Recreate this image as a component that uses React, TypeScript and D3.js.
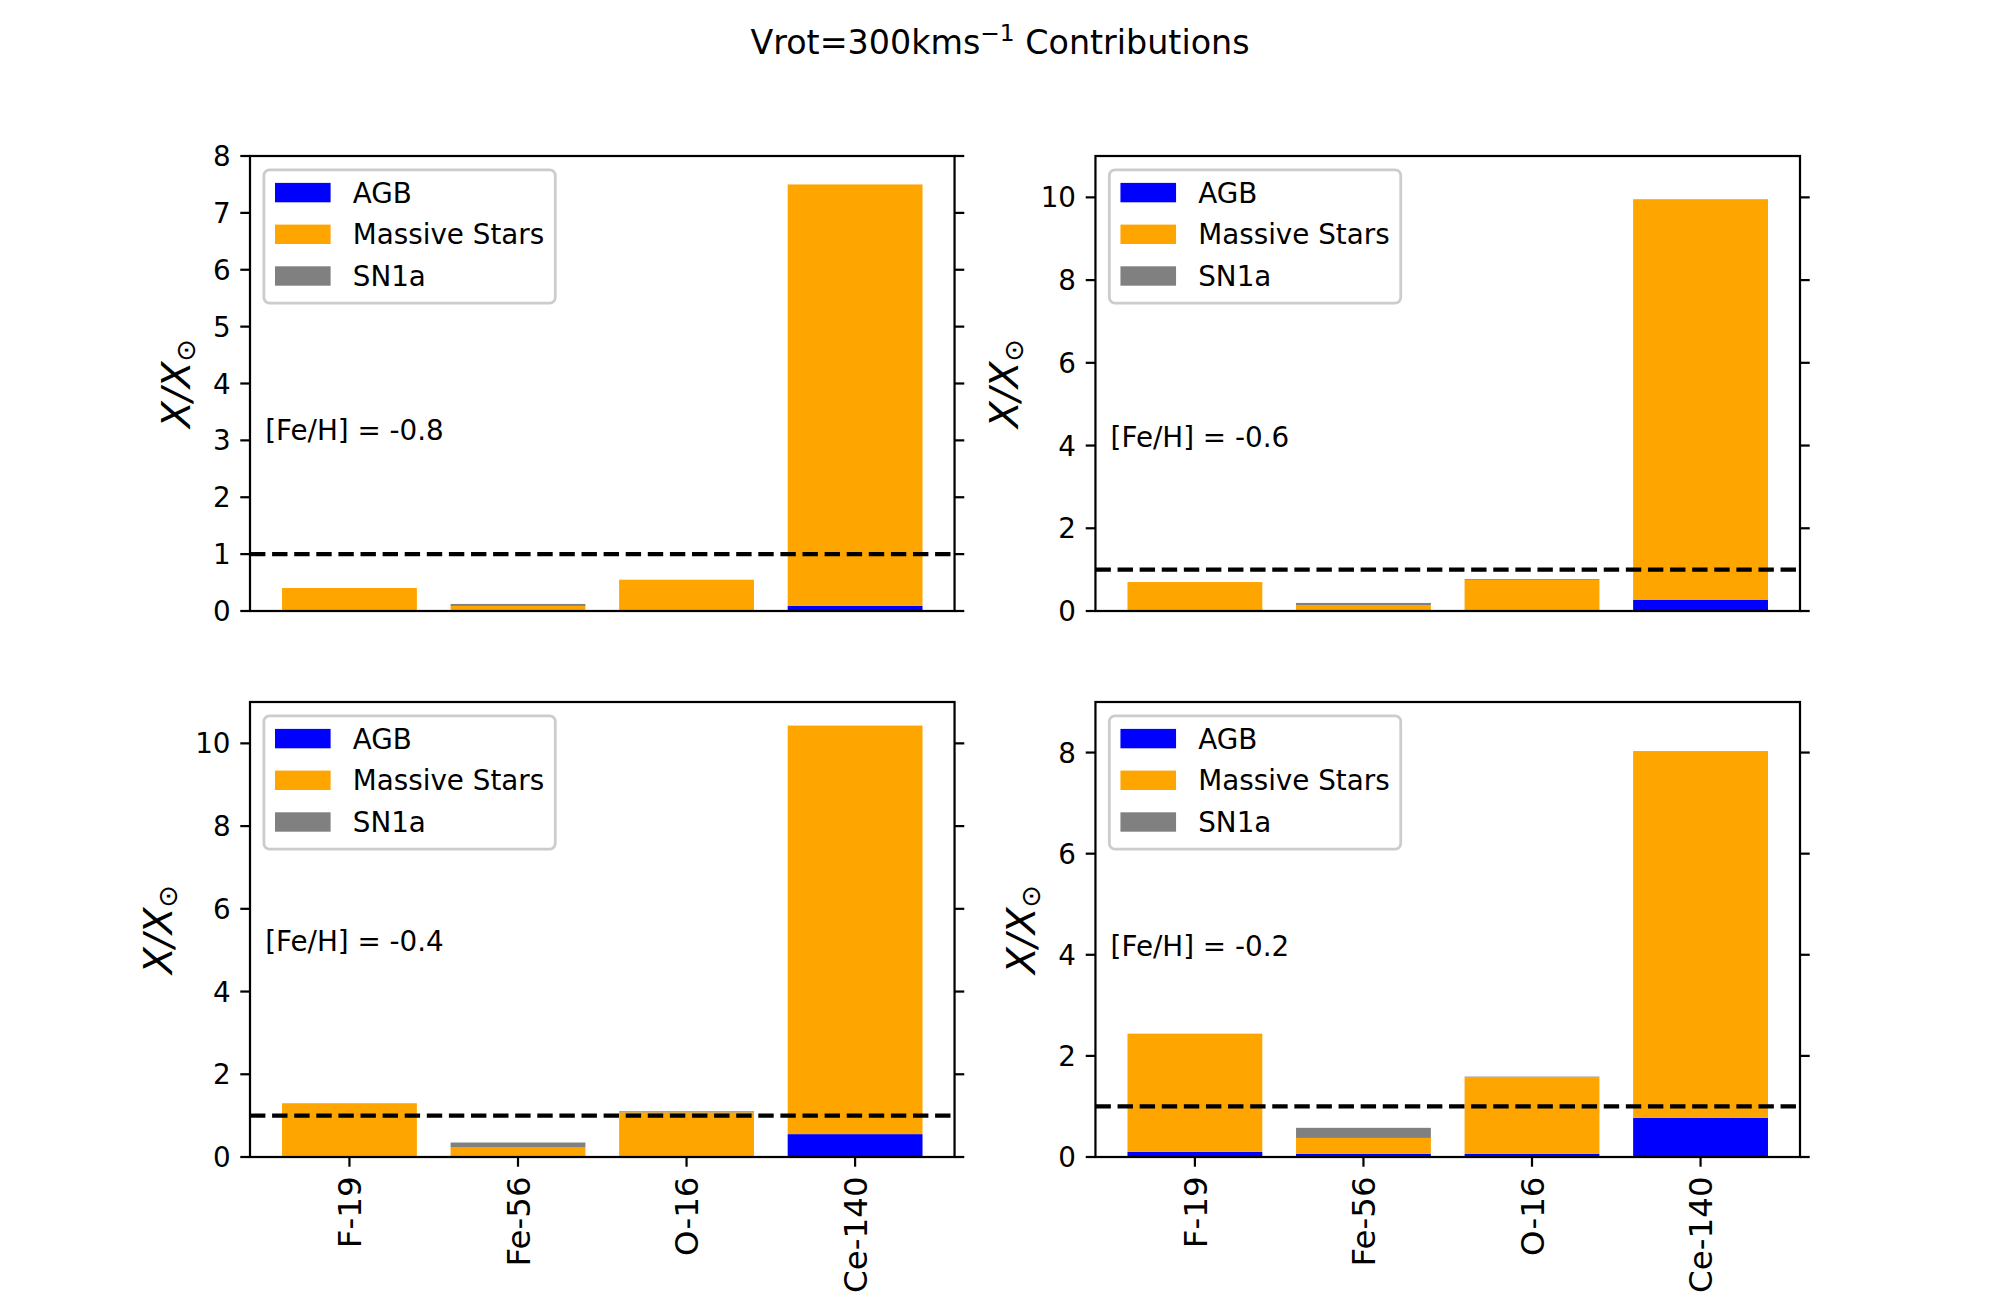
import React, { useEffect, useRef } from "react";
import * as d3 from "d3";

// ---------------- data ----------------
const categories = ["F-19", "Fe-56", "O-16", "Ce-140"];
const metallicities = ["-0.8", "-0.6", "-0.4", "-0.2"];
const seriesNames = ["AGB", "Massive Stars", "SN1a"];
const seriesColors = ["blue", "orange", "grey"];

const agbFeHm08 = [0.004, 0.003, 0.003, 0.09];
const massiveFeHm08 = [0.4, 0.086, 0.543, 7.41];
const sn1aFeHm08 = [0.0, 0.035, 0.003, 0.0];

const agbFeHm06 = [0.01, 0.005, 0.005, 0.266];
const massiveFeHm06 = [0.69, 0.14, 0.745, 9.69];
const sn1aFeHm06 = [0.0, 0.05, 0.02, 0.0];

const agbFeHm04 = [0.03, 0.008, 0.01, 0.553];
const massiveFeHm04 = [1.27, 0.222, 1.07, 9.877];
const sn1aFeHm04 = [0.0, 0.12, 0.025, 0.0];

const agbFeHm02 = [0.1, 0.06, 0.06, 0.775];
const massiveFeHm02 = [2.34, 0.317, 1.516, 7.255];
const sn1aFeHm02 = [0.0, 0.2, 0.014, 0.0];

const solarLevel = 1;
const yLimits = [8, 11, 11, 9];
const yTickSteps = [1, 2, 2, 2];
const labelYValues = [3, 3.96, 4.98, 3.97];
const labelXValue = -0.5;

const titleMain = "Vrot=300kms";
const titleSup = "\u22121";
const titleRest = " Contributions";

// ---------------- layout ----------------
const W = 2000;
const H = 1300;
const FONT = "DejaVu Sans";
const FS = 27.78; // 10pt @ 200dpi
const XFS = 32.5;
const TICK = 9.72;
const PAD = 9.72;
const SPINE = 2.22;

const figLeft = 250;
const figRight = 1800;
const figTop = 156;
const figBottom = 1157;
const axW = (figRight - figLeft) / 2.2;
const axH = (figBottom - figTop) / 2.2;
const colX = [figLeft, figLeft + axW * 1.2];
const rowY = [figTop, figTop + axH * 1.2];

export default function App() {
  const ref = useRef<SVGSVGElement | null>(null);

  useEffect(() => {
    document.body.style.margin = "0";
    const svg = d3.select(ref.current);
    svg.selectAll("*").remove();
    svg.append("rect").attr("width", W).attr("height", H).attr("fill", "white");

    const panels = [
      { agb: agbFeHm08, massive: massiveFeHm08, sn1a: sn1aFeHm08 },
      { agb: agbFeHm06, massive: massiveFeHm06, sn1a: sn1aFeHm06 },
      { agb: agbFeHm04, massive: massiveFeHm04, sn1a: sn1aFeHm04 },
      { agb: agbFeHm02, massive: massiveFeHm02, sn1a: sn1aFeHm02 },
    ];

    const measure = (txt: string, size: number) => {
      const t = svg
        .append("text")
        .attr("font-family", FONT)
        .attr("font-size", size)
        .text(txt);
      const w = (t.node() as SVGTextElement).getComputedTextLength();
      t.remove();
      return w;
    };

    // title
    const title = svg
      .append("text")
      .attr("x", W / 2)
      .attr("y", 54)
      .attr("text-anchor", "middle")
      .attr("font-family", FONT)
      .attr("font-size", 33.33)
      .attr("fill", "black");
    title.append("tspan").text(titleMain);
    title.append("tspan").attr("font-size", 23.3).attr("dy", -13).text(titleSup);
    title.append("tspan").attr("dy", 13).text(titleRest);

    panels.forEach((p, i) => {
      const row = Math.floor(i / 2);
      const col = i % 2;
      const left = colX[col];
      const top = rowY[row];
      const right = left + axW;
      const bottom = top + axH;

      const x = d3.scaleLinear().domain([-0.59, 3.59]).range([left, right]);
      const y = d3.scaleLinear().domain([0, yLimits[i]]).range([bottom, top]);
      const g = svg.append("g");

      // stacked bars
      const rows = categories.map((c, k) => ({
        cat: k,
        AGB: p.agb[k],
        "Massive Stars": p.massive[k],
        SN1a: p.sn1a[k],
      }));
      const stack = d3.stack<any>().keys(seriesNames)(rows);
      stack.forEach((layer, si) => {
        g.append("g")
          .attr("fill", seriesColors[si])
          .selectAll("rect")
          .data(layer)
          .join("rect")
          .attr("x", (d: any) => x(d.data.cat - 0.4))
          .attr("width", x(0.8) - x(0))
          .attr("y", (d: any) => y(d[1]))
          .attr("height", (d: any) => Math.max(0, y(d[0]) - y(d[1])));
      });

      // dashed solar line
      g.append("line")
        .attr("x1", left)
        .attr("x2", right)
        .attr("y1", y(solarLevel))
        .attr("y2", y(solarLevel))
        .attr("stroke", "black")
        .attr("stroke-width", 4.17)
        .attr("stroke-dasharray", "15.4 6.7");

      // spines
      g.append("rect")
        .attr("x", left)
        .attr("y", top)
        .attr("width", axW)
        .attr("height", axH)
        .attr("fill", "none")
        .attr("stroke", "black")
        .attr("stroke-width", SPINE);

      // y ticks (left with labels, right without)
      const ticks = d3.range(0, yLimits[i] + 1e-9, yTickSteps[i]);
      ticks.forEach((t) => {
        const yy = y(t);
        g.append("line")
          .attr("x1", left - TICK)
          .attr("x2", left)
          .attr("y1", yy)
          .attr("y2", yy)
          .attr("stroke", "black")
          .attr("stroke-width", SPINE);
        g.append("line")
          .attr("x1", right)
          .attr("x2", right + TICK)
          .attr("y1", yy)
          .attr("y2", yy)
          .attr("stroke", "black")
          .attr("stroke-width", SPINE);
        g.append("text")
          .attr("x", left - TICK - PAD)
          .attr("y", yy + 0.36 * FS)
          .attr("text-anchor", "end")
          .attr("font-family", FONT)
          .attr("font-size", FS)
          .attr("fill", "black")
          .text(String(t));
      });
      const maxLabelW = d3.max(ticks, (t) => measure(String(t), FS)) || 0;

      // y label
      const ylx = left - TICK - PAD - maxLabelW - 23;
      const yl = g
        .append("text")
        .attr("transform", `translate(${ylx},${(top + bottom) / 2}) rotate(-90)`)
        .attr("text-anchor", "middle")
        .attr("font-family", FONT)
        .attr("font-size", 39)
        .attr("fill", "black");
      yl.append("tspan").attr("font-style", "italic").text("X/X");
      yl.append("tspan").attr("font-size", 27).attr("dy", 5).text("\u2299");

      // x ticks on bottom row
      if (row === 1) {
        categories.forEach((c, k) => {
          const cx = x(k);
          g.append("line")
            .attr("x1", cx)
            .attr("x2", cx)
            .attr("y1", bottom)
            .attr("y2", bottom + TICK)
            .attr("stroke", "black")
            .attr("stroke-width", SPINE);
          g.append("text")
            .attr("transform", `translate(${cx},${bottom + TICK + PAD}) rotate(-90)`)
            .attr("x", 0)
            .attr("y", 0.36 * XFS)
            .attr("text-anchor", "end")
            .attr("font-family", FONT)
            .attr("font-size", XFS)
            .attr("fill", "black")
            .text(c);
        });
      }

      // metallicity label
      g.append("text")
        .attr("x", x(labelXValue))
        .attr("y", y(labelYValues[i]))
        .attr("font-family", FONT)
        .attr("font-size", FS)
        .attr("fill", "black")
        .text(`[Fe/H] = ${metallicities[i]}`);

      // legend
      const lx = left + 13.9;
      const ly = top + 13.9;
      const maxTW = d3.max(seriesNames, (s) => measure(s, FS)) || 0;
      const lw = 11.1 + 55.6 + 22.2 + maxTW + 11.1;
      const lh = 133.3;
      const lg = g.append("g");
      lg.append("rect")
        .attr("x", lx)
        .attr("y", ly)
        .attr("width", lw)
        .attr("height", lh)
        .attr("rx", 5.6)
        .attr("ry", 5.6)
        .attr("fill", "white")
        .attr("fill-opacity", 0.8)
        .attr("stroke", "#cccccc")
        .attr("stroke-width", 2.78);
      seriesNames.forEach((s, si) => {
        const cy = ly + 22.7 + si * 41.7;
        lg.append("rect")
          .attr("x", lx + 11.1)
          .attr("y", cy - 9.7)
          .attr("width", 55.6)
          .attr("height", 19.4)
          .attr("fill", seriesColors[si]);
        lg.append("text")
          .attr("x", lx + 11.1 + 55.6 + 22.2)
          .attr("y", cy + 0.36 * FS)
          .attr("font-family", FONT)
          .attr("font-size", FS)
          .attr("fill", "black")
          .text(s);
      });
    });
  }, []);

  return (
    <svg
      ref={ref}
      width={W}
      height={H}
      viewBox={`0 0 ${W} ${H}`}
      style={{ display: "block" }}
    />
  );
}
